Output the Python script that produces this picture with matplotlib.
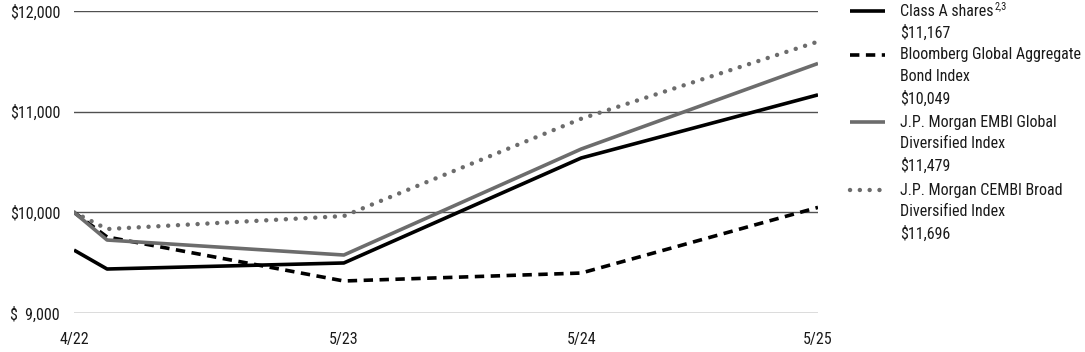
import numpy as np
import matplotlib
matplotlib.use("Agg")
import matplotlib.pyplot as plt
import matplotlib.dates as mdates
from matplotlib.lines import Line2D
from datetime import date

plt.rcParams['font.family'] = ['Roboto Condensed', 'Archivo Narrow', 'Liberation Sans', 'DejaVu Sans']

# data
dates = [date(2022, 4, 10), date(2022, 5, 31), date(2023, 5, 31), date(2024, 5, 31), date(2025, 5, 31)]
class_a = [9625, 9437, 9497, 10540, 11167]
bloomberg = [10000, 9755, 9318, 9397, 10049]
embi = [10000, 9725, 9576, 10629, 11479]
cembi = [10000, 9834, 9963, 10930, 11696]

tick_dates = [date(2022, 4, 10), date(2023, 5, 31), date(2024, 5, 31), date(2025, 5, 31)]
tick_labels = ["4/22", "5/23", "5/24", "5/25"]
y_ticks = [9000, 10000, 11000, 12000]
y_labels = ["$  9,000", "$10,000", "$11,000", "$12,000"]

legend_lines = [["Class A shares", "$11,167"],
                ["Bloomberg Global Aggregate", "Bond Index", "$10,049"],
                ["J.P. Morgan EMBI Global", "Diversified Index", "$11,479"],
                ["J.P. Morgan CEMBI Broad", "Diversified Index", "$11,696"]]
footnote = "2,3"

GRAY = "#6c6c6c"
TXT = "#1a1a1a"
LW = 2.6
FS = 11.5

fig = plt.figure(figsize=(10.85, 3.52), dpi=100)
ax = fig.add_axes([74 / 1085, 39 / 352, 744 / 1085, 302 / 352])

for y in y_ticks:
    ax.axhline(y, color="#505050", lw=1.0, zorder=1)

styles = [
    dict(color="black", lw=LW, solid_capstyle="butt"),
    dict(color="black", lw=LW, linestyle=(0, (2.6, 1.8))),
    dict(color=GRAY, lw=LW, solid_capstyle="butt"),
    dict(color=GRAY, lw=3.2, linestyle=(0, (0.01, 2.2)), dash_capstyle="round"),
]
series = [class_a, bloomberg, embi, cembi]
xs = mdates.date2num(dates)
for vals, st in zip(series, styles):
    ax.plot(xs, vals, zorder=3, **st)

ax.set_xlim(xs[0], xs[-1])
ax.set_ylim(9000, 12000)
ax.set_yticks(y_ticks)
ax.set_yticklabels(y_labels, fontsize=FS, color=TXT)
ax.set_xticks(mdates.date2num(tick_dates))
ax.set_xticklabels(tick_labels, fontsize=FS, color=TXT)
ax.tick_params(axis="y", length=0, pad=10)
ax.tick_params(axis="x", length=0, pad=14)
for s in ax.spines.values():
    s.set_visible(False)

# legend drawn by hand on the right
legend_tops = [11, 55, 122, 190]
step = 21.7
renderer = fig.canvas.get_renderer()
for lines, st, top in zip(legend_lines, styles, legend_tops):
    yf = 1 - top / 352
    fig.add_artist(Line2D([850 / 1085, 885 / 1085], [yf, yf], transform=fig.transFigure, **st))
    for i, line in enumerate(lines):
        t = fig.text(900 / 1085, 1 - (top + i * step) / 352, line, fontsize=FS, color=TXT,
                     va="center", ha="left")
        if lines[0] == "Class A shares" and i == 0:
            bb = t.get_window_extent(renderer)
            fig.text(bb.x1 / 1085 + 0.001, 1 - (top - 5) / 352, footnote, fontsize=7.5,
                     color=TXT, va="center", ha="left")

fig.savefig("out.png", dpi=100)
